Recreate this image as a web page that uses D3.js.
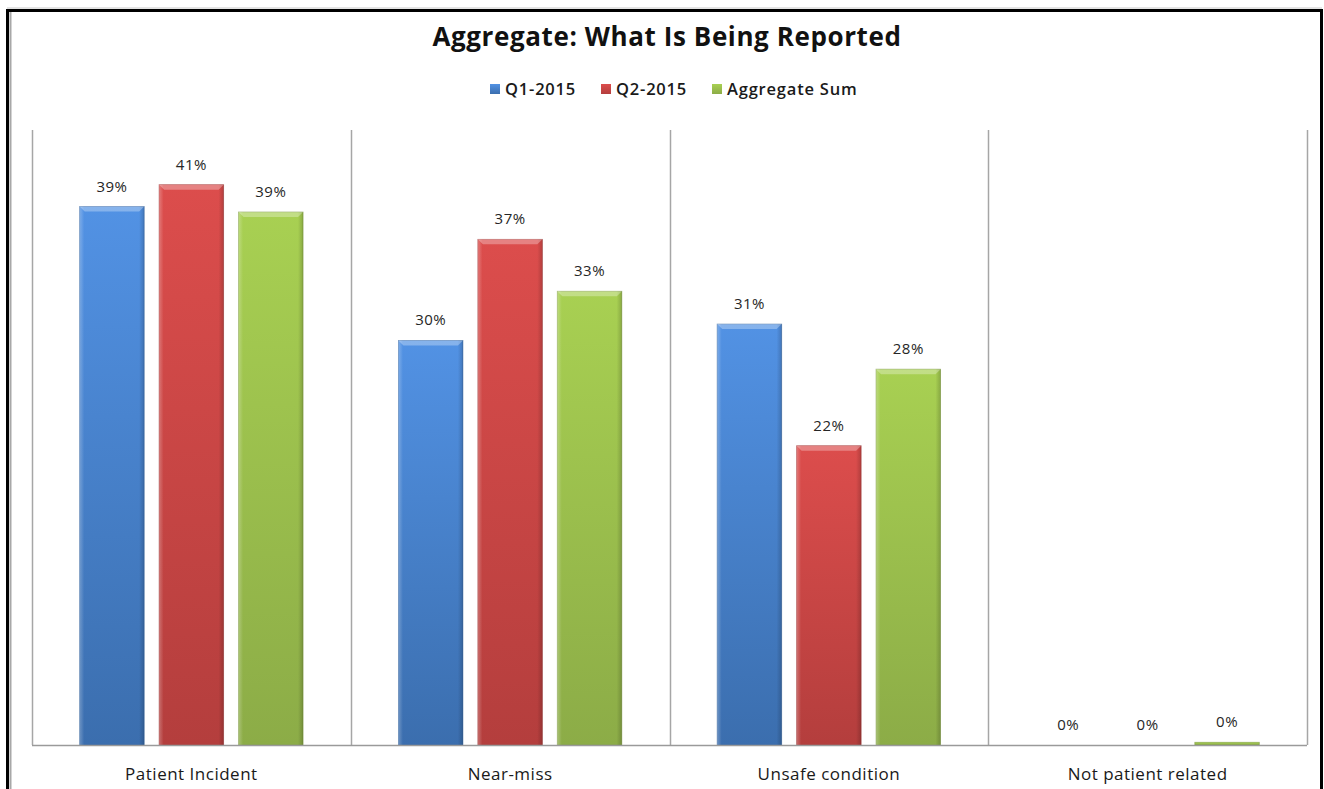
<!DOCTYPE html>
<html>
<head>
<meta charset="utf-8">
<script src="https://cdn.jsdelivr.net/npm/d3@7"></script>
<style>
  html, body { margin: 0; padding: 0; background: #fff; }
  svg { display: block; }
  text { font-family: "Open Sans", Lato, sans-serif; }
</style>
</head>
<body>
<svg id="chart" width="1324" height="789"></svg>
<script>
// Report categories and share of reports per period
const categories = ["Patient Incident", "Near-miss", "Unsafe condition", "Not patient related"];
const seriesNames = ["Q1-2015", "Q2-2015", "Aggregate Sum"];
const q1Values = [0.394, 0.296, 0.308, 0.0];
const q2Values = [0.41, 0.37, 0.219, 0.0];
const aggregateValues = [0.39, 0.332, 0.275, 0.002];
const seriesValues = [q1Values, q2Values, aggregateValues];
const labelFormat = d3.format(".0%");

const palette = [
  { top: "#5292e4", bottom: "#3b6eae", edge: "#2f5d96" },
  { top: "#dc4d4c", bottom: "#b43e3d", edge: "#963232" },
  { top: "#a8d052", bottom: "#8cac47", edge: "#77933a" }
];

const svg = d3.select("#chart");
const W = 1324, H = 789;
const plot = { left: 32, right: 1307, top: 130, bottom: 745 };

// Outer frame
svg.append("rect").attr("x", 0).attr("y", 0).attr("width", W).attr("height", H).attr("fill", "#fff");
svg.append("rect")
  .attr("x", 7.5).attr("y", 10.5).attr("width", 1314).attr("height", 800)
  .attr("fill", "none").attr("stroke", "#000").attr("stroke-width", 3);
svg.append("line").attr("x1", 10.5).attr("x2", 10.5).attr("y1", 12).attr("y2", H)
  .attr("stroke", "#a8a8a8").attr("stroke-width", 2);
svg.append("line").attr("x1", 7).attr("x2", 1322).attr("y1", 8).attr("y2", 8)
  .attr("stroke", "#c8c8c8").attr("stroke-width", 1);

// Title
svg.append("text")
  .attr("x", 667).attr("y", 46)
  .attr("text-anchor", "middle")
  .attr("font-size", 26).attr("font-weight", 700).attr("fill", "#111")
  .attr("letter-spacing", 0.6)
  .text("Aggregate: What Is Being Reported");

// Scales
const x0 = d3.scaleBand().domain(categories).range([plot.left, plot.right]).padding(0);
const x1 = d3.scaleBand().domain(seriesNames).range([0, x0.bandwidth()])
  .paddingInner(0.1875).paddingOuter(0.6);
const y = d3.scaleLinear().domain([0, 0.45]).range([plot.bottom, plot.top]);

// Gradients
const defs = svg.append("defs");
palette.forEach((p, i) => {
  const g = defs.append("linearGradient").attr("id", "fill" + i)
    .attr("x1", 0).attr("y1", 0).attr("x2", 0).attr("y2", 1);
  g.append("stop").attr("offset", "0%").attr("stop-color", p.top);
  g.append("stop").attr("offset", "100%").attr("stop-color", p.bottom);
});
const side = defs.append("linearGradient").attr("id", "side")
  .attr("x1", 0).attr("y1", 0).attr("x2", 1).attr("y2", 0);
side.append("stop").attr("offset", "0%").attr("stop-color", "#fff").attr("stop-opacity", 0.25);
side.append("stop").attr("offset", "7%").attr("stop-color", "#fff").attr("stop-opacity", 0);
side.append("stop").attr("offset", "92%").attr("stop-color", "#000").attr("stop-opacity", 0);
side.append("stop").attr("offset", "100%").attr("stop-color", "#000").attr("stop-opacity", 0.18);

// Category dividers
const dividers = [plot.left, ...categories.map(c => x0(c) + x0.bandwidth())];
svg.append("g").selectAll("line").data(dividers).join("line")
  .attr("x1", d => Math.round(d) + 0.5).attr("x2", d => Math.round(d) + 0.5)
  .attr("y1", plot.top).attr("y2", plot.bottom)
  .attr("stroke", "#a6a6a6").attr("stroke-width", 1.5);

// Bars
const barData = [];
categories.forEach((c, ci) => {
  seriesNames.forEach((s, si) => {
    barData.push({ cat: c, series: s, si, value: seriesValues[si][ci] });
  });
});

const bars = svg.append("g").selectAll("g").data(barData).join("g")
  .attr("transform", d => `translate(${x0(d.cat) + x1(d.series)},0)`);
const bw = x1.bandwidth();

bars.append("rect")
  .attr("x", 0).attr("y", d => y(d.value))
  .attr("width", bw).attr("height", d => y(0) - y(d.value))
  .attr("fill", d => `url(#fill${d.si})`)
  .attr("stroke", d => palette[d.si].edge).attr("stroke-width", 0.8).attr("stroke-opacity", 0.6);
bars.filter(d => y(0) - y(d.value) > 6).append("rect")
  .attr("x", 0).attr("y", d => y(d.value))
  .attr("width", bw).attr("height", d => y(0) - y(d.value))
  .attr("fill", "url(#side)");
bars.filter(d => y(0) - y(d.value) > 6).append("path")
  .attr("d", d => {
    const t = y(d.value), b = 5;
    return `M0,${t}L${bw},${t}L${bw - b},${t + b}L${b},${t + b}Z`;
  })
  .attr("fill", "#fff").attr("fill-opacity", 0.3);

// Value labels
bars.append("text")
  .attr("x", bw / 2).attr("y", d => y(d.value) - 15)
  .attr("text-anchor", "middle")
  .attr("font-size", 15).attr("fill", "#262626")
  .attr("letter-spacing", 0.5)
  .text(d => labelFormat(d.value));

// Baseline
svg.append("line")
  .attr("x1", plot.left).attr("x2", plot.right)
  .attr("y1", plot.bottom + 0.5).attr("y2", plot.bottom + 0.5)
  .attr("stroke", "#9a9a9a").attr("stroke-width", 1.5);

// Category labels
svg.append("g").selectAll("text").data(categories).join("text")
  .attr("x", d => x0(d) + x0.bandwidth() / 2)
  .attr("y", 780)
  .attr("text-anchor", "middle")
  .attr("font-size", 17).attr("fill", "#1a1a1a")
  .attr("letter-spacing", 0.5)
  .text(d => d);

// Legend
const legend = svg.append("g").attr("transform", "translate(0,89)");
const legendX = [490, 601, 712];
seriesNames.forEach((s, i) => {
  const g = legend.append("g").attr("transform", `translate(${legendX[i]},0)`);
  g.append("rect").attr("x", 0).attr("y", -5).attr("width", 10).attr("height", 10)
    .attr("fill", `url(#fill${i})`);
  g.append("text").attr("x", 15).attr("y", 6)
    .attr("font-size", 16.5).attr("font-weight", 600).attr("fill", "#1a1a1a")
    .attr("letter-spacing", 0.8)
    .text(s);
});
</script>
</body>
</html>
